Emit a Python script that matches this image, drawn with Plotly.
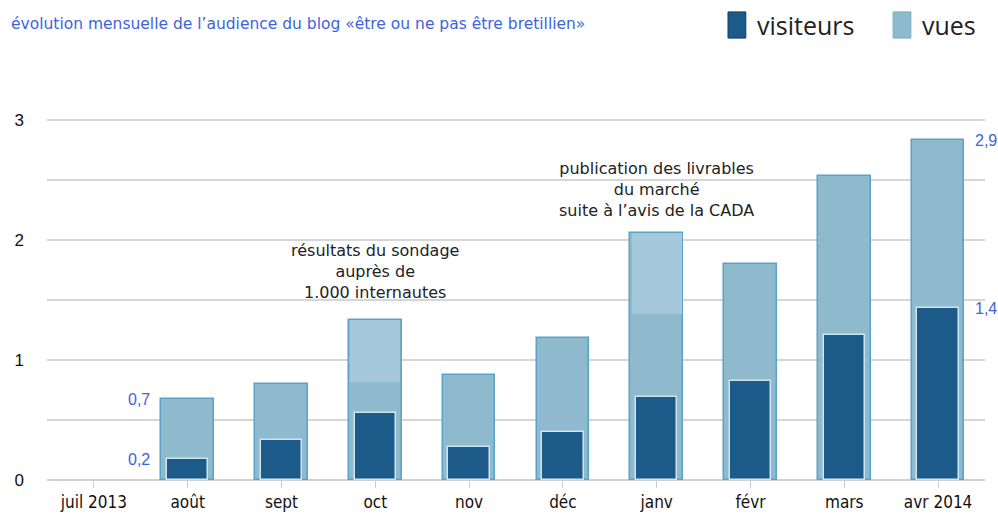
import plotly.graph_objects as go

mois = ["juil 2013", "août", "sept", "oct", "nov", "déc", "janv", "févr", "mars", "avr 2014"]
vues = [None, 0.675, 0.80, 1.33, 0.875, 1.18, 2.06, 1.80, 2.53, 2.83]
visiteurs = [None, 0.175, 0.33, 0.56, 0.275, 0.40, 0.69, 0.825, 1.21, 1.43]
# level from which the lighter "peak" portion of the vues bar starts
vues_pic_debut = [None, None, None, 0.82, None, None, 1.38, None, None, None]

y_ticks = [0, 0.5, 1, 1.5, 2, 2.5, 3]
y_ticktext = ["0", "", "1", "", "2", "", "3"]

valeurs_vues = {"août": "0,7", "avr 2014": "2,9"}
valeurs_visiteurs = {"août": "0,2", "avr 2014": "1,4"}

BLUE_TXT = "#3d63dd"

pic_len = [(v - b) if b is not None else None for v, b in zip(vues, vues_pic_debut)]

fig = go.Figure()
fig.add_trace(go.Bar(
    x=mois, y=vues, name="vues", width=0.56,
    marker=dict(color="#8fb9cc", line=dict(color="#5aa2c8", width=1.5)),
    showlegend=False,
))
fig.add_trace(go.Bar(
    x=mois, y=pic_len, base=vues_pic_debut, width=0.53,
    marker=dict(color="#a5c9da", line=dict(width=0)),
    showlegend=False,
))
fig.add_trace(go.Bar(
    x=mois, y=visiteurs, name="visiteurs", width=0.44,
    marker=dict(color="#1c5a8a", line=dict(color="#cfe5f0", width=1.5)),
    showlegend=False,
))

# value labels
lab_font = dict(family="Liberation Sans, Arial", size=16, color=BLUE_TXT)
for serie, vals in ((vues, valeurs_vues), (visiteurs, valeurs_visiteurs)):
    for m, t in vals.items():
        i = mois.index(m)
        left = i == 1
        fig.add_annotation(x=m, y=serie[i], text=t,
                           xanchor="right" if left else "left", yanchor="middle",
                           xshift=-37 if left else 36, showarrow=False, font=lab_font,
                           borderpad=0)

# event notes
note_font = dict(family="DejaVu Sans", size=16, color="#222")
fig.add_annotation(x="oct", y=vues[3], yshift=16, text="résultats du sondage<br>auprès de<br>1.000 internautes",
                   showarrow=False, yanchor="bottom", align="center", font=note_font)
fig.add_annotation(x="janv", y=vues[6], yshift=11, text="publication des livrables<br>du marché<br>suite à l’avis de la CADA",
                   showarrow=False, yanchor="bottom", align="center", font=note_font)

# title
fig.add_annotation(xref="paper", yref="paper", x=-0.04, y=1.0, xanchor="left", yanchor="middle",
                   yshift=60, text="évolution mensuelle de l’audience du blog «être ou ne pas être bretillien»",
                   showarrow=False, font=dict(family="DejaVu Sans", size=15.5, color=BLUE_TXT))

# custom legend
leg = [("visiteurs", "#1c5a8a", "#0e3c6b", 0.726), ("vues", "#8fb9cc", "#7aaec6", 0.902)]
for name, col, edge, xp in leg:
    fig.add_shape(type="rect", xref="paper", yref="paper", x0=xp, x1=xp + 0.019,
                  y0=1.116, y1=1.182, fillcolor=col, line=dict(color=edge, width=1))
    fig.add_annotation(xref="paper", yref="paper", x=xp + 0.029, y=1.149, xanchor="left",
                       yanchor="middle", text=name, showarrow=False,
                       font=dict(family="Open Sans, Liberation Sans", size=25, color="#222"))

fig.update_layout(
    barmode="overlay",
    width=998, height=516,
    margin=dict(l=47, r=13, t=84, b=36),
    paper_bgcolor="white", plot_bgcolor="white",
    bargap=0,
    xaxis=dict(
        type="category", range=[-0.5, 9.5], showgrid=False, zeroline=False, automargin=False,
        ticks="outside", ticklen=7, tickcolor="#cccccc", showline=False,
        tickfont=dict(family="Liberation Sans Narrow, DejaVu Sans Condensed, Arial Narrow, sans-serif",
                      size=17, color="#111"),
    ),
    yaxis=dict(
        range=[0, 3.3], tickvals=y_ticks, ticktext=y_ticktext, automargin=False,
        showgrid=True, gridcolor="#d6d6d6", gridwidth=2,
        zeroline=True, zerolinecolor="#d0d0d0", zerolinewidth=2,
        ticklabelstandoff=22,
        tickfont=dict(family="Liberation Sans, Arial", size=17, color="#111"),
    ),
)

fig.write_html("out.html", config={"displayModeBar": False},
               post_script="document.body.style.margin='0';document.body.style.overflow='hidden';")
